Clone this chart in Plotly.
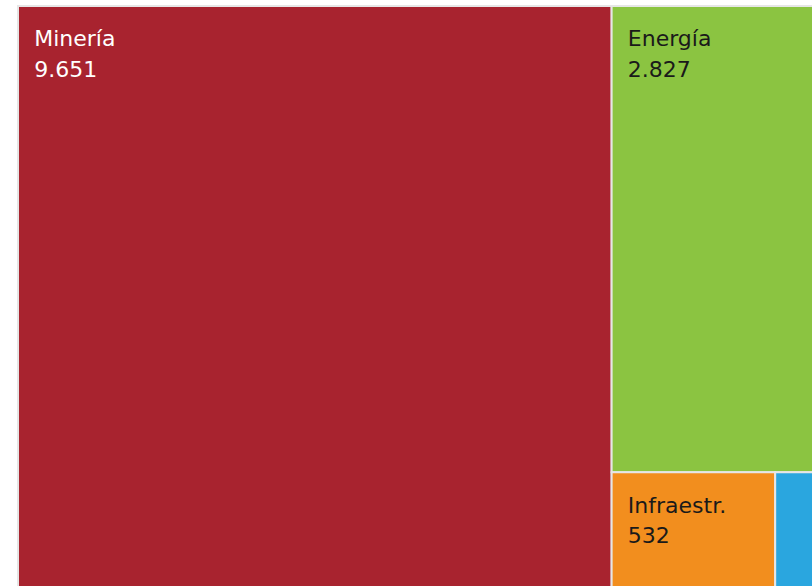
import plotly.graph_objects as go

labels = ["Minería", "Energía", "Infraestr.", "Otros"]
values = [9651, 2827, 532, 175]
colors = ["#A8232F", "#8BC441", "#F28E1E", "#2AA6DF"]
text_colors = ["#FFFFFF", "#1A1A1A", "#1A1A1A", "#1A1A1A"]

big = "<span style='font-size:22px'>\u2002\u200a%s</span>"
template = "\u00a0<br><br><br>" + (big % "%{label}") + "<br><br><br>" + (big % "%{value:,}")

fig = go.Figure(go.Treemap(
    labels=labels,
    parents=[""] * len(labels),
    values=values,
    marker=dict(colors=colors, line=dict(color="#E6E6E6", width=2),
                pad=dict(t=0, l=0, r=0, b=0)),
    texttemplate=template,
    textposition="top left",
    textfont=dict(family="DejaVu Sans", size=7.8, color=text_colors),
    hoverinfo="label+value",
    pathbar=dict(visible=False),
    sort=True,
    tiling=dict(packing="squarify", pad=0),
))
fig.update_layout(
    width=829, height=589,
    margin=dict(l=18, r=0, t=6, b=0, pad=0),
    separators=",.",
    paper_bgcolor="white",
    uniformtext=dict(minsize=6, mode="hide"),
)
fig.write_html(
    "out.html",
    config={"displayModeBar": False},
    post_script="document.body.style.margin='0';document.body.style.overflow='hidden';document.documentElement.style.overflow='hidden';",
)
